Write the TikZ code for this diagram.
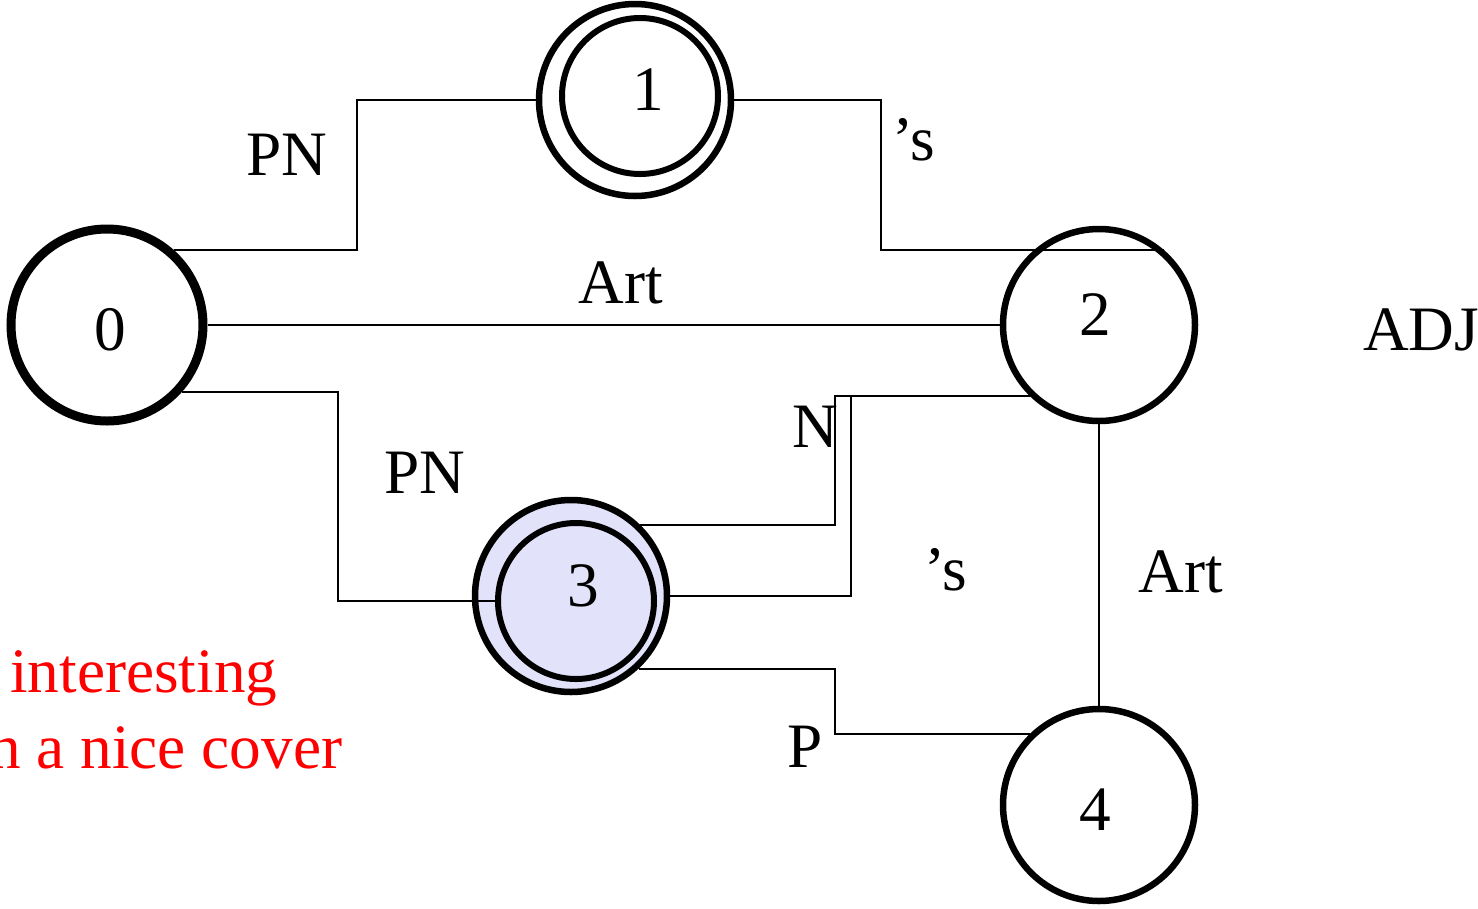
\documentclass[tikz,border=0pt]{standalone}
\usepackage{fontspec}
\setmainfont{Liberation Serif}
\usetikzlibrary{positioning}
\usetikzlibrary{calc}
\definecolor{lav}{RGB}{226,226,250}
\definecolor{red}{RGB}{255,0,0}

\tikzset{
  state/.style={circle, draw=black, line width=0.65mm, minimum size=1.92cm, inner sep=0pt},
  ring/.style={circle, draw=black, line width=0.6mm, minimum size=1.56cm, inner sep=0pt},
  edge/.style={line width=0.2mm},
  lbl/.style={anchor=base, inner sep=0pt, font=\fontsize{18}{22}\selectfont},
}

\begin{document}
\begin{tikzpicture}
    \useasboundingbox (0,0) rectangle (14.78,9.08);
    % states
    \node[state, line width=0.9mm] (n0) at (1.07,5.83) {};
    \node[state] (n1) at (6.35,8.08) {};
    \node[ring] (n1i) at (6.40,8.12) {};
    \node[state] (n2) at (10.99,5.83) {};
    \node[state, fill=lav] (n3) at (5.71,3.12) {};
    \node[ring] (n3i) at (5.76,3.07) {};
    \node[state] (n4) at (10.99,1.03) {};
    % state numbers
    \node[lbl] (d0) at (1.10,5.58) {0};
    \node[lbl] (d1) at (6.48,7.98) {1};
    \node[lbl] (d2) at (10.95,5.73) {2};
    \node[lbl] (d3) at (5.83,3.02) {3};
    \node[lbl] (d4) at (10.95,0.78) {4};

    % transitions
    \draw[edge] (n0.48) -| ([xshift=-1.79cm]n1.west) -- (n1.west);
    \draw[edge] (n1.east) -| ([xshift=-1.53cm]n2.131) -- (n2.49);
    \draw[edge] (n0.east) -- (n2.west);
    \draw[edge] (n0.-42) -| ([xshift=-1.57cm]n3i.west) -- (n3i.west);
    \draw[edge] (n3.46) -| ([xshift=-1.95cm]n2.226) -- (n2.226);
    \draw[edge] (n3.east) -| ([xshift=-1.79cm]n2.226) -- (n2.226);
    \draw[edge] (n3.-47) -| ([xshift=-1.95cm]n4.134) -- (n4.134);
    \draw[edge] (n2.south) -- (n4.north);

    % labels
    \node[lbl] (pnA) at (2.87,7.33) {PN};
    \node[lbl] (sA) at (9.14,7.48) {'s};
    \node[lbl] (artA) at (6.21,6.05) {Art};
    \node[lbl] (pnB) at (4.25,4.15) {PN};
    \node[lbl] (nB) at (8.15,4.61) {N};
    \node[lbl] (sB) at (9.46,3.18) {'s};
    \node[lbl] (artB) at (11.81,3.16) {Art};
    \node[lbl] (pC) at (8.05,1.41) {P};
    \node[lbl] (adj) at (14.21,5.58) {ADJ};

    % note
    \node[lbl, anchor=base east, text=red] (noteA) at (2.78,2.16) {interesting};
    \node[lbl, anchor=base east, text=red] (noteB) at (3.43,1.40) {n a nice cover};
\end{tikzpicture}
\end{document}
